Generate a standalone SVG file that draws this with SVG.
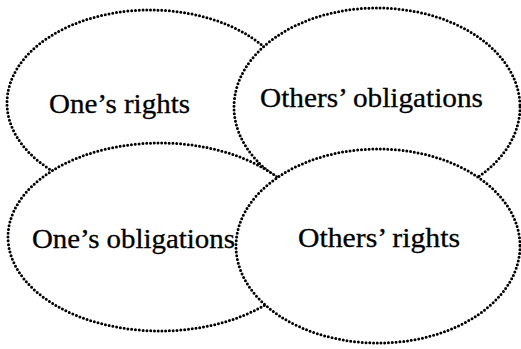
<svg xmlns="http://www.w3.org/2000/svg" width="521" height="349" viewBox="0 0 521 349">
<style>
.e{fill:#fff;stroke:#000;stroke-width:3;stroke-dasharray:0 3.8;stroke-linecap:round}
.t{font-family:"Liberation Serif","DejaVu Serif",serif;font-size:27px;fill:#000;text-anchor:middle;stroke:#000;stroke-width:0.3}
</style>
<rect width="521" height="349" fill="#fff"/>
<g id="ones-rights">
<ellipse class="e" cx="150" cy="103" rx="143" ry="93"/>
<text class="t" x="119.5" y="113" textLength="141" lengthAdjust="spacingAndGlyphs">One’s rights</text>
</g>
<g id="others-obligations">
<ellipse class="e" cx="377" cy="107" rx="143" ry="99"/>
<text class="t" x="371.5" y="107" textLength="223" lengthAdjust="spacingAndGlyphs">Others’ obligations</text>
</g>
<g id="ones-obligations">
<ellipse class="e" cx="160" cy="237" rx="152" ry="94"/>
<text class="t" x="133.5" y="248" textLength="203" lengthAdjust="spacingAndGlyphs">One’s obligations</text>
</g>
<g id="others-rights">
<ellipse class="e" cx="378" cy="246" rx="142" ry="97"/>
<text class="t" x="379" y="247" textLength="162" lengthAdjust="spacingAndGlyphs">Others’ rights</text>
</g>
<g id="connectors"></g>
</svg>
